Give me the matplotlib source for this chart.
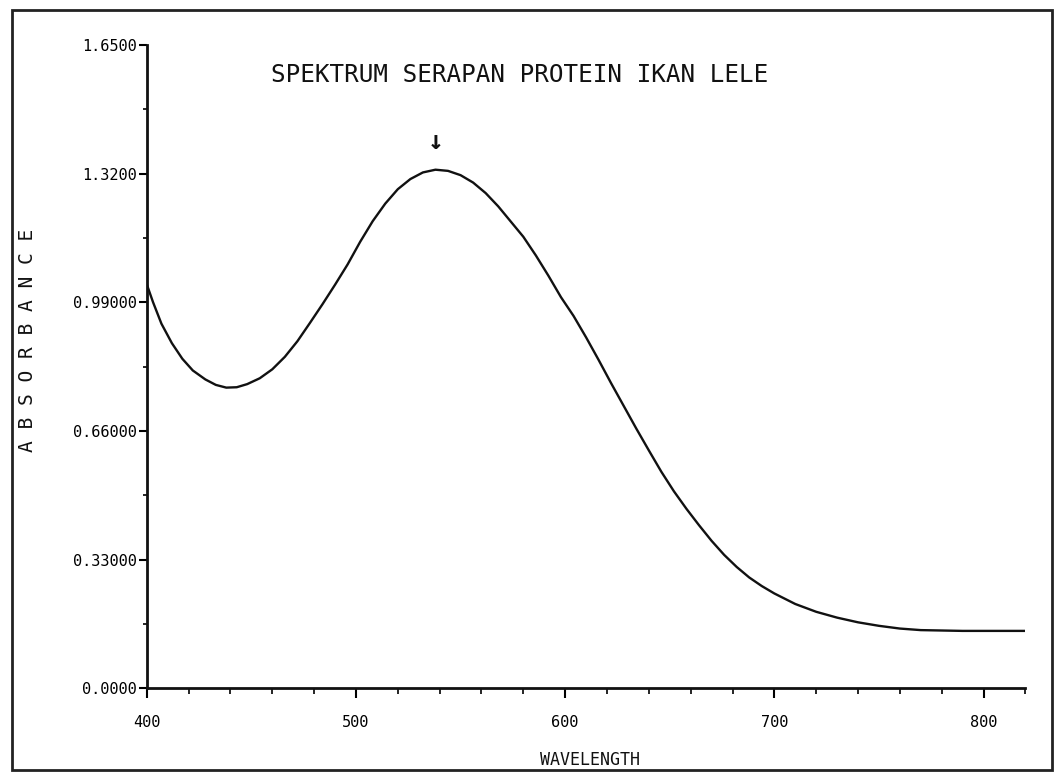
import matplotlib
matplotlib.use('Agg')
from matplotlib import pyplot as plt
from matplotlib.patches import Rectangle
from matplotlib.ticker import MultipleLocator

# absorbance spectrum
wavelength = [400, 403, 407, 412, 417, 422, 428, 433, 438, 443, 448, 454, 460,
              466, 472, 478, 484, 490, 496, 502, 508, 514, 520, 526, 532, 538,
              544, 550, 556, 562, 568, 574, 580, 586, 592, 598, 604, 610, 616,
              622, 628, 634, 640, 646, 652, 658, 664, 670, 676, 682, 688, 694,
              700, 710, 720, 730, 740, 750, 760, 770, 790, 820]
absorbance = [1.036, 0.990, 0.935, 0.885, 0.845, 0.815, 0.792, 0.778, 0.771,
              0.772, 0.780, 0.795, 0.818, 0.850, 0.890, 0.937, 0.985, 1.035,
              1.087, 1.145, 1.198, 1.243, 1.280, 1.306, 1.323, 1.330, 1.327,
              1.316, 1.297, 1.270, 1.236, 1.197, 1.158, 1.110, 1.058, 1.003,
              0.955, 0.900, 0.842, 0.782, 0.724, 0.666, 0.610, 0.555, 0.505,
              0.460, 0.418, 0.378, 0.342, 0.311, 0.284, 0.262, 0.243, 0.216,
              0.196, 0.181, 0.169, 0.160, 0.153, 0.149, 0.147, 0.147]
yticks = [0.0, 0.33, 0.66, 0.99, 1.32, 1.65]
ytick_labels = ['0.0000', '0.33000', '0.66000', '0.99000', '1.3200', '1.6500']
xticks = [400, 500, 600, 700, 800]
peak_nm = 539

mono = 'DejaVu Sans Mono'

fig = plt.figure(figsize=(10.56, 7.75), dpi=100)
ax = fig.add_axes([0.139, 0.112, 0.832, 0.830])

ax.plot(wavelength, absorbance, color='#111111', lw=1.7)
ax.text(peak_nm - 1, 1.40, '\u2193', ha='center', va='center',
        fontsize=19, fontweight='bold', family=mono, color='#111111')

ax.set_xlim(400, 820)
ax.set_ylim(0, 1.65)
ax.set_xticks(xticks)
ax.set_xticklabels([str(v) for v in xticks], family=mono, fontsize=11)
ax.set_yticks(yticks)
ax.set_yticklabels(ytick_labels, family=mono, fontsize=11)
ax.xaxis.set_minor_locator(MultipleLocator(20))
ax.yaxis.set_minor_locator(MultipleLocator(0.165))

for s in ['top', 'right']:
    ax.spines[s].set_visible(False)
for s in ['left', 'bottom']:
    ax.spines[s].set_linewidth(2)
    ax.spines[s].set_color('#111111')

ax.tick_params(axis='x', which='major', direction='out', length=7, width=1.5, pad=12)
ax.tick_params(axis='x', which='minor', direction='out', length=4, width=1.2)
ax.tick_params(axis='y', which='major', direction='out', length=6, width=1.5, pad=1)
ax.tick_params(axis='y', which='minor', direction='out', length=3, width=1.2)

fig.text(520 / 1056, 1 - 75 / 775, 'SPEKTRUM SERAPAN PROTEIN IKAN LELE',
         ha='center', va='center', family=mono, fontsize=17.5, color='#111111')
fig.text(590 / 1056, 1 - 760 / 775, 'WAVELENGTH', ha='center', va='center',
         family=mono, fontsize=12, color='#111111')
fig.text(28 / 1056, 1 - 340 / 775, 'A B S O R B A N C E', ha='center',
         va='center', rotation=90, family=mono, fontsize=14, color='#111111')

# scanned page frame
fig.patches.append(Rectangle((12 / 1056, 5 / 775), 1040 / 1056, 760 / 775,
                             transform=fig.transFigure, fill=False,
                             lw=2, ec='#222222'))

fig.savefig('out.png', dpi=100)
